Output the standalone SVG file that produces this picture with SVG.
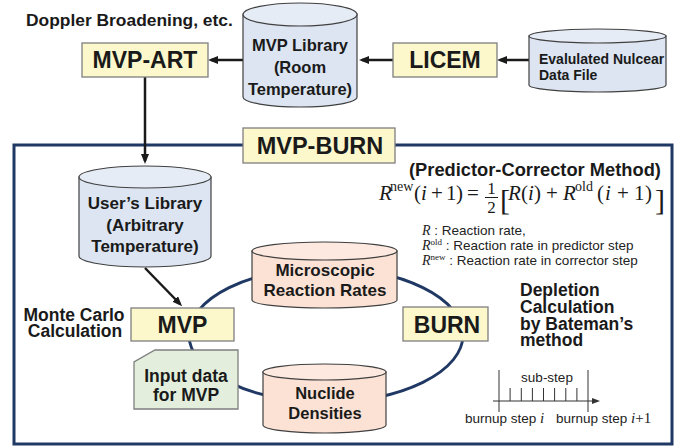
<svg xmlns="http://www.w3.org/2000/svg" width="679" height="448" viewBox="0 0 679 448">
<defs>
<marker id="ah" markerUnits="userSpaceOnUse" viewBox="0 0 10 8" markerWidth="10" markerHeight="8" refX="7" refY="4" orient="auto">
<path d="M0,0 L10,4 L0,8 z" fill="#1a1a1a"/>
</marker>
<marker id="ahs" markerUnits="userSpaceOnUse" viewBox="0 0 8 6" markerWidth="8" markerHeight="6" refX="6" refY="3" orient="auto">
<path d="M0,0 L8,3 L0,6 z" fill="#333"/>
</marker>
<style>
.box{fill:#fcf8cc;stroke:#7f7f7f;stroke-width:1.3}
.blue{fill:#dce5f1;stroke:#404040;stroke-width:1.2}
.bluetop{fill:#e6ecf6;stroke:#404040;stroke-width:1.2}
.pink{fill:#fbe2d5;stroke:#404040;stroke-width:1.2}
.pinktop{fill:#fde9df;stroke:#404040;stroke-width:1.2}
.green{fill:#e3efdc;stroke:#7f7f7f;stroke-width:1.3}
.big{font-family:"Liberation Sans",Arial,sans-serif;font-weight:bold;font-size:23px;fill:#1a1a1a;text-anchor:middle}
.lbl{font-family:"Liberation Sans",Arial,sans-serif;font-weight:bold;font-size:17px;fill:#1a1a1a}
.mid{text-anchor:middle}
.sm{font-family:"Liberation Sans",Arial,sans-serif;font-size:13.5px;fill:#222}
.m{font-family:"Liberation Serif","Times New Roman",serif;font-size:21px;fill:#1a1a1a}
.mi{font-style:italic}
.sup{font-size:14px}
.conn{stroke:#1a1a1a;stroke-width:2.5;fill:none}
.navy{stroke:#1f3864;stroke-width:3;fill:none}
</style>
</defs>

<!-- frame -->
<rect x="14" y="145" width="658" height="299" class="navy"/>

<!-- cycle ellipse -->
<g id="cycle">
<ellipse cx="326" cy="335" rx="137" ry="67" fill="none" stroke="#1f3864" stroke-width="2.8"/>
</g>

<g id="connectors">
<line x1="243" y1="60" x2="211" y2="60" class="conn" marker-end="url(#ah)"/>
<line x1="393" y1="60" x2="362" y2="60" class="conn" marker-end="url(#ah)"/>
<line x1="529" y1="60" x2="500" y2="60" class="conn" marker-end="url(#ah)"/>
<line x1="145" y1="77" x2="145" y2="161" class="conn" marker-end="url(#ah)"/>
<line x1="145" y1="268" x2="180" y2="304" class="conn" marker-end="url(#ah)"/>
</g>

<text x="26" y="26" class="lbl" style="font-size:17.4px">Doppler Broadening, etc.</text>

<g id="mvp-art">
<rect x="82" y="43" width="126" height="34" class="box"/>
<text x="145" y="68" class="big">MVP-ART</text>
</g>

<g id="mvp-library">
<path d="M243,14 V97 A57,10 0 0 0 357,97 V14 Z" class="blue"/>
<ellipse cx="300" cy="14.5" rx="57" ry="11.5" class="bluetop"/>
<text class="lbl mid" x="300" y="51" style="font-size:16.5px">MVP Library</text>
<text class="lbl mid" x="300" y="73" style="font-size:16.5px">(Room</text>
<text class="lbl mid" x="300" y="95" style="font-size:16.5px">Temperature)</text>
</g>

<g id="licem">
<rect x="393" y="43" width="104" height="34" class="box"/>
<text x="445" y="68" class="big">LICEM</text>
</g>

<g id="evaluated">
<path d="M529,36 V85 A68.5,7 0 0 0 666,85 V36 Z" class="blue"/>
<ellipse cx="597.5" cy="36" rx="68.5" ry="7" class="bluetop"/>
<text class="lbl" x="539" y="64" style="font-size:14px">Evalulated Nulcear</text>
<text class="lbl" x="539" y="80" style="font-size:14px">Data File</text>
</g>

<g id="mvp-burn">
<rect x="243" y="128" width="152" height="35" class="box"/>
<text x="320" y="154" class="big" style="font-size:23.5px">MVP-BURN</text>
</g>

<g id="users-library">
<path d="M79,177 V256 A66,11 0 0 0 211,256 V177 Z" class="blue"/>
<ellipse cx="145" cy="177" rx="66" ry="11" class="bluetop"/>
<text class="lbl mid" x="145" y="209">User’s Library</text>
<text class="lbl mid" x="145" y="231">(Arbitrary</text>
<text class="lbl mid" x="145" y="252">Temperature)</text>
</g>

<g id="microscopic">
<path d="M252,251 V300 A72.5,8 0 0 0 397,300 V251 Z" class="pink"/>
<ellipse cx="324.5" cy="251" rx="72.5" ry="9" class="pinktop"/>
<text class="lbl mid" x="325" y="276">Microscopic</text>
<text class="lbl mid" x="325" y="296">Reaction Rates</text>
</g>

<g id="nuclide">
<path d="M263,372 V425 A61.5,8 0 0 0 386,425 V372 Z" class="pink"/>
<ellipse cx="324.5" cy="372" rx="61.5" ry="8" class="pinktop"/>
<text class="lbl mid" x="325" y="399" style="font-size:16.5px">Nuclide</text>
<text class="lbl mid" x="325" y="419" style="font-size:16.5px">Densities</text>
</g>

<g id="mvp">
<rect x="131" y="308" width="103" height="33" class="box"/>
<text x="182.5" y="333" class="big">MVP</text>
</g>
<text class="lbl mid" x="74" y="321" style="font-size:17.5px">Monte Carlo</text>
<text class="lbl mid" x="75" y="337" style="font-size:17.5px">Calculation</text>

<g id="input-data">
<path d="M155,350 H238 V409 H134 V362 Z" class="green"/>
<text class="lbl mid" x="186" y="382" style="font-size:17.5px">Input data</text>
<text class="lbl mid" x="186" y="401" style="font-size:17.5px">for MVP</text>
</g>

<g id="burn">
<rect x="403" y="307" width="85" height="34" class="box"/>
<text x="447" y="333" class="big">BURN</text>
</g>

<g id="depletion">
<text class="lbl" x="520" y="296" style="font-size:17.5px">Depletion</text>
<text class="lbl" x="520" y="313" style="font-size:17.5px">Calculation</text>
<text class="lbl" x="520" y="330" style="font-size:17.5px">by Bateman’s</text>
<text class="lbl" x="520" y="346" style="font-size:17.5px">method</text>
</g>

<g id="predictor">
<text class="lbl" x="409" y="176" style="font-size:18.3px">(Predictor-Corrector Method)</text>
<text class="m mi" x="379" y="200">R</text>
<text class="m sup" x="390" y="191">new</text>
<text class="m" x="414" y="200">(</text>
<text class="m mi" x="421" y="200">i</text>
<text class="m" x="431" y="200">+</text>
<text class="m" x="446" y="200">1</text>
<text class="m" x="456" y="200">)</text>
<text class="m" x="467" y="200">=</text>
<text class="m" x="491.5" y="194" text-anchor="middle" style="font-size:17px">1</text>
<line x1="485" y1="197.5" x2="498" y2="197.5" stroke="#1a1a1a" stroke-width="1"/>
<text class="m" x="491.5" y="213" text-anchor="middle" style="font-size:17px">2</text>
<text class="m" x="500" y="210" style="font-size:30px">[</text>
<text class="m mi" x="508" y="200">R</text>
<text class="m" x="521" y="200">(</text>
<text class="m mi" x="528" y="200">i</text>
<text class="m" x="534" y="200">)</text>
<text class="m" x="546" y="200">+</text>
<text class="m mi" x="563" y="200">R</text>
<text class="m sup" x="575" y="191">old</text>
<text class="m" x="597" y="200">(</text>
<text class="m mi" x="605" y="200">i</text>
<text class="m" x="617" y="200">+</text>
<text class="m" x="634" y="200">1</text>
<text class="m" x="645" y="200">)</text>
<text class="m" x="655" y="210" style="font-size:30px">]</text>
</g>

<g id="legend">
<text x="422" y="235" class="sm"><tspan style="font-family:'Liberation Serif',serif;font-style:italic;font-size:14px">R</tspan> : Reaction rate,</text>
<text x="422" y="250" class="sm"><tspan style="font-family:'Liberation Serif',serif;font-style:italic;font-size:14px">R</tspan><tspan style="font-family:'Liberation Serif',serif;font-size:9px" dy="-5">old</tspan><tspan dy="5"> : Reaction rate in predictor step</tspan></text>
<text x="422" y="265" class="sm"><tspan style="font-family:'Liberation Serif',serif;font-style:italic;font-size:14px">R</tspan><tspan style="font-family:'Liberation Serif',serif;font-size:9px" dy="-5">new</tspan><tspan dy="5"> : Reaction rate in corrector step</tspan></text>
</g>

<g id="substep" stroke="#333" stroke-width="1">
<line x1="493" y1="401" x2="598" y2="401" marker-end="url(#ahs)"/>
<line x1="499" y1="370" x2="499" y2="412"/>
<line x1="588" y1="370" x2="588" y2="412"/>
<line x1="510.1" y1="388" x2="510.1" y2="401"/>
<line x1="521.3" y1="388" x2="521.3" y2="401"/>
<line x1="532.4" y1="388" x2="532.4" y2="401"/>
<line x1="543.5" y1="388" x2="543.5" y2="401"/>
<line x1="554.6" y1="388" x2="554.6" y2="401"/>
<line x1="565.8" y1="388" x2="565.8" y2="401"/>
<line x1="576.9" y1="388" x2="576.9" y2="401"/>
</g>
<text x="547" y="382" class="sm mid" style="text-anchor:middle">sub-step</text>
<text x="465" y="423" class="sm">burnup step <tspan style="font-family:'Liberation Serif',serif;font-style:italic;font-size:15px">i</tspan></text>
<text x="556" y="423" class="sm">burnup step <tspan style="font-family:'Liberation Serif',serif;font-style:italic;font-size:15px">i</tspan><tspan style="font-family:'Liberation Serif',serif;font-size:15px">+1</tspan></text>
</svg>
